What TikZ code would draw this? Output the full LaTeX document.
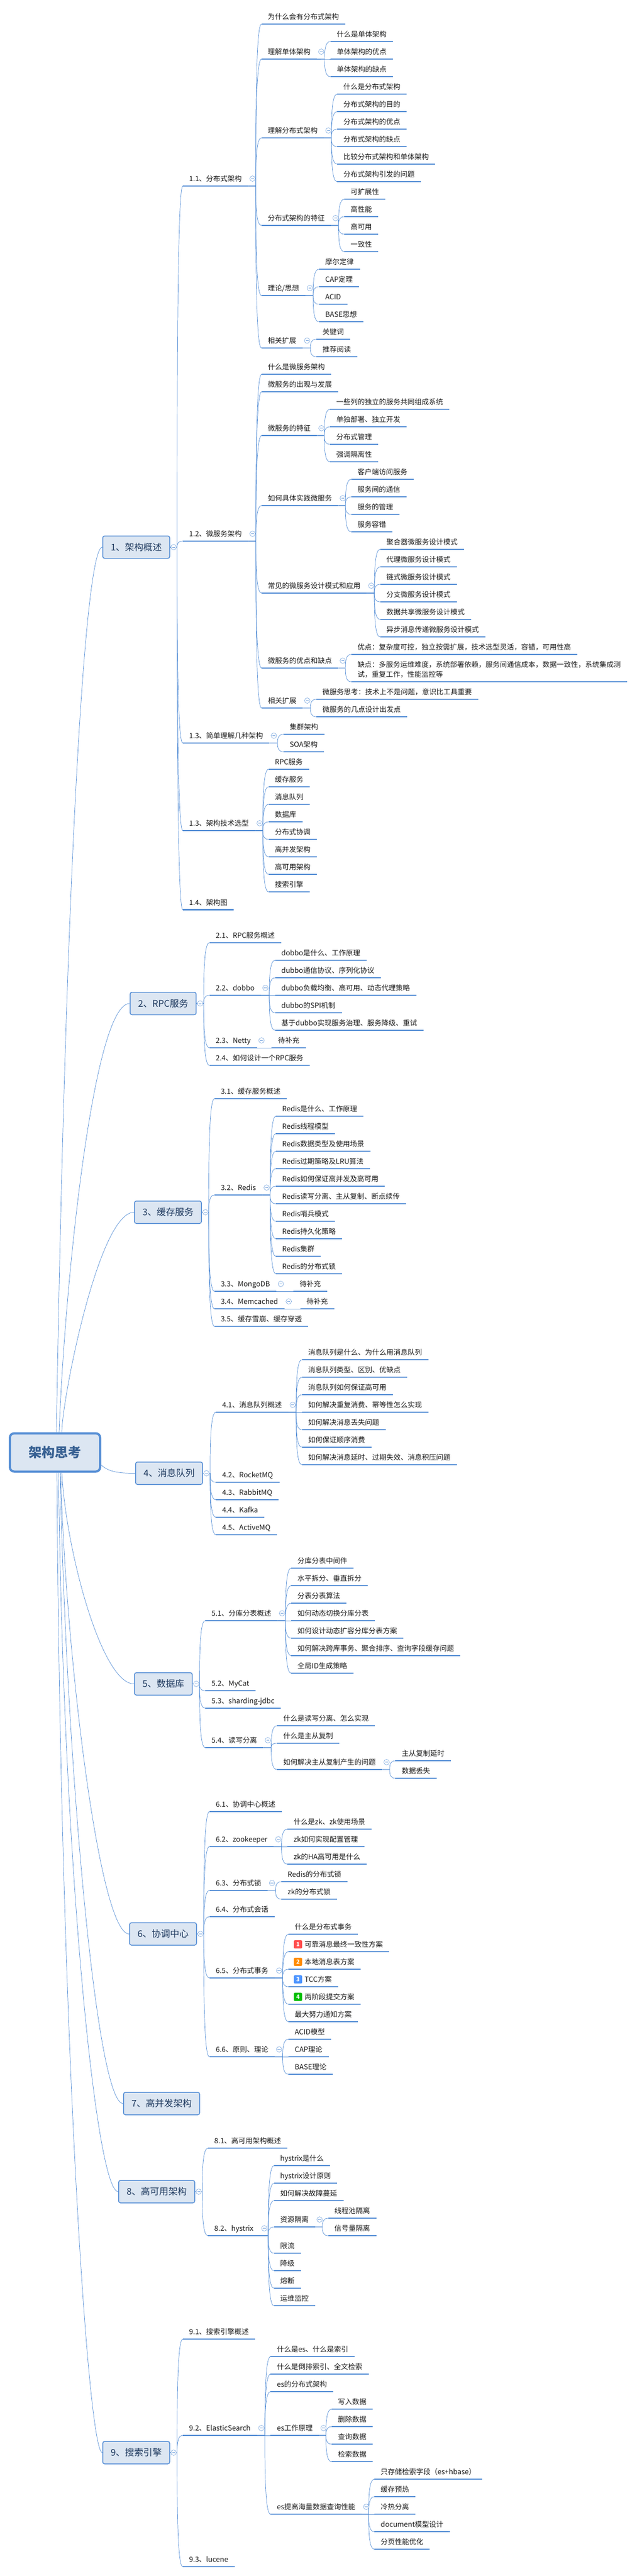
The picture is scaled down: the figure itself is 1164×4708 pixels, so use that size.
\documentclass[tikz,border=0pt]{standalone}
\usepackage{fontspec}
\setmainfont{Noto Sans CJK SC}
\usetikzlibrary{calc}
\definecolor{tblue}{HTML}{558ED5}
\definecolor{boxfill}{HTML}{DCE6F2}
\definecolor{boxtext}{HTML}{1F3A5F}
\definecolor{roottext}{HTML}{376092}
\tikzset{
	uline/.style={draw=tblue,line width=2.6pt},
	topic/.style={anchor=south west,inner xsep=11.5pt,inner ysep=8pt,text height=10pt,text depth=0pt,text=black!90,font=\fontsize{13}{18}\selectfont,append after command={(\tikzlastnode.south west) edge[uline] (\tikzlastnode.south east)}},
	mainbox/.style={anchor=west,draw=tblue,fill=boxfill,line width=1.5pt,rounded corners=3.5pt,minimum height=41pt,inner xsep=14.5pt,text=boxtext,font=\fontsize{16.8}{20}\selectfont},
	rootbox/.style={draw=tblue,fill=boxfill,line width=4pt,rounded corners=8pt,minimum width=165pt,minimum height=70pt,text=roottext,font=\fontsize{24}{28}\selectfont\bfseries},
	link/.style={draw=tblue,line width=.7pt},
	foldmark/.style={circle,draw=tblue!80,fill=white,line width=.6pt,minimum size=10pt,inner sep=0pt,path picture={\draw[tblue!80,line width=.6pt] ([xshift=-2.6pt]path picture bounding box.center) -- ([xshift=2.6pt]path picture bounding box.center);}},
	badge/.style={rounded corners=1.5pt,minimum size=15pt,inner sep=0pt,text=white,font=\fontsize{10.5}{11}\selectfont\bfseries}
}
\def\linkto(#1)(#2){\draw[link] let \p1=(#1),\p2=(#2.south west),\n1={\x2-10.5pt} in (\p1) -- (\n1,\y1) .. controls (\n1,{.4*\y1+.6*\y2}) and ({\n1+2pt},\y2) .. (\p2);}
\def\topic(#1)(#2)(#3)#4{\node[topic] (#3) at (#2) {#4};\linkto(#1.south east)(#3)}
\def\subtopic(#1)(#2)(#3)#4{\node[topic] (#3) at (#2) {#4};\linkto(#1.east)(#3)}
\def\foldtopic(#1){\node[foldmark] (#1f) at ([shift={(8,-13.5)}]#1.south east) {};}
\def\foldbox(#1){\node[foldmark] (#1f) at ([xshift=6.5pt]#1.east) {};}
\def\rootlink(#1)(#2)(#3)(#4){\draw[link] (#1) .. controls (#2) and (#3) .. (#4.west);}
\begin{document}
\begin{tikzpicture}[x=1pt,y=-1pt]
		%%%%% START %%%%%
		\useasboundingbox (0,0) rectangle (1164,4708);
		
		\node[rootbox] (root) at (100.5,2654.5) {架构思考};
		
		\node[mainbox] (c1) at (187,1000) {1、架构概述};
		\node[mainbox] (c2) at (237,1834) {2、RPC服务};
		\node[mainbox] (c3) at (245,2215.5) {3、缓存服务};
		\node[mainbox] (c4) at (247,2692.5) {4、消息队列};
		\node[mainbox] (c5) at (245,3077.5) {5、数据库};
		\node[mainbox] (c6) at (236,3534.5) {6、协调中心};
		\node[mainbox] (c7) at (225,3844.5) {7、高并发架构};
		\node[mainbox] (c8) at (216,4005.5) {8、高可用架构};
		\node[mainbox] (c9) at (187,4482.5) {9、搜索引擎};
		
		\rootlink([xshift=2.5pt]root.north)(120,1600)(155,1000)(c1);
		\rootlink([xshift=7.5pt]root.north)(118,2350)(170,1834)(c2);
		\rootlink([xshift=12.5pt]root.north)(113,2560)(180,2215.5)(c3);
		\rootlink([yshift=-23pt]root.east)(200,2692)(225,2692.5)(c4);
		\rootlink([xshift=12.5pt]root.south)(120,2830)(185,3077.5)(c5);
		\rootlink([xshift=10.5pt]root.south)(118,3000)(180,3534.5)(c6);
		\rootlink([xshift=9.5pt]root.south)(120,3200)(175,3844.5)(c7);
		\rootlink([xshift=6.5pt]root.south)(115,3400)(175,4005.5)(c8);
		\rootlink([xshift=3.5pt]root.south)(110,3700)(160,4482.5)(c9);
		
		\subtopic(c1)(334,340)(t11){1.1、分布式架构}
		\topic(t11)(477.7,44)(t11a){为什么会有分布式架构}
		\topic(t11)(477.7,108)(t11b){理解单体架构}
		\topic(t11b)(603.6,76)(t11b1){什么是单体架构}
		\topic(t11b)(603.6,108)(t11b2){单体架构的优点}
		\topic(t11b)(603.6,140)(t11b3){单体架构的缺点}
		\foldtopic(t11b)
		\topic(t11)(477.7,252)(t11c){理解分布式架构}
		\topic(t11c)(616,172)(t11c1){什么是分布式架构}
		\topic(t11c)(616,204)(t11c2){分布式架构的目的}
		\topic(t11c)(616,236)(t11c3){分布式架构的优点}
		\topic(t11c)(616,268)(t11c4){分布式架构的缺点}
		\topic(t11c)(616,300)(t11c5){比较分布式架构和单体架构}
		\topic(t11c)(616,332)(t11c6){分布式架构引发的问题}
		\foldtopic(t11c)
		\topic(t11)(477.7,412)(t11d){分布式架构的特征}
		\topic(t11d)(629,364)(t11d1){可扩展性}
		\topic(t11d)(629,396)(t11d2){高性能}
		\topic(t11d)(629,428)(t11d3){高可用}
		\topic(t11d)(629,460)(t11d4){一致性}
		\foldtopic(t11d)
		\topic(t11)(477.7,540)(t11e){理论/思想}
		\topic(t11e)(582.6,492)(t11e1){摩尔定律}
		\topic(t11e)(582.6,524)(t11e2){CAP定理}
		\topic(t11e)(582.6,556)(t11e3){ACID}
		\topic(t11e)(582.6,588)(t11e4){BASE思想}
		\foldtopic(t11e)
		\topic(t11)(477.7,636)(t11f){相关扩展}
		\topic(t11f)(577.7,620)(t11f1){关键词}
		\topic(t11f)(577.7,652)(t11f2){推荐阅读}
		\foldtopic(t11f)
		\foldtopic(t11)
		
		\subtopic(c1)(334,989)(t12){1.2、微服务架构}
		\topic(t12)(478,684)(t12a){什么是微服务架构}
		\topic(t12)(478,716)(t12b){微服务的出现与发展}
		\topic(t12)(478,796)(t12c){微服务的特征}
		\topic(t12c)(603,748)(t12c1){一些列的独立的服务共同组成系统}
		\topic(t12c)(603,780)(t12c2){单独部署、独立开发}
		\topic(t12c)(603,812)(t12c3){分布式管理}
		\topic(t12c)(603,844)(t12c4){强调隔离性}
		\foldtopic(t12c)
		\topic(t12)(478,924)(t12d){如何具体实践微服务}
		\topic(t12d)(641.6,876)(t12d1){客户端访问服务}
		\topic(t12d)(641.6,908)(t12d2){服务间的通信}
		\topic(t12d)(641.6,940)(t12d3){服务的管理}
		\topic(t12d)(641.6,972)(t12d4){服务容错}
		\foldtopic(t12d)
		\topic(t12)(478,1084)(t12e){常见的微服务设计模式和应用}
		\topic(t12e)(694.5,1004)(t12e1){聚合器微服务设计模式}
		\topic(t12e)(694.5,1036)(t12e2){代理微服务设计模式}
		\topic(t12e)(694.5,1068)(t12e3){链式微服务设计模式}
		\topic(t12e)(694.5,1100)(t12e4){分支微服务设计模式}
		\topic(t12e)(694.5,1132)(t12e5){数据共享微服务设计模式}
		\topic(t12e)(694.5,1164)(t12e6){异步消息传递微服务设计模式}
		\foldtopic(t12e)
		\topic(t12)(478,1221)(t12f){微服务的优点和缺点}
		\topic(t12f)(641.6,1196)(t12f1){优点：复杂度可控，独立按需扩展，技术选型灵活，容错，可用性高}
		\topic(t12f)(641.6,1246)(t12f2){\vbox{\hbox{缺点：多服务运维难度，系统部署依赖，服务间通信成本，数据一致性，系统集成测}\hbox{试，重复工作，性能监控等}}}
		\foldtopic(t12f)
		\topic(t12)(478,1294)(t12g){相关扩展}
		\topic(t12g)(577.7,1278)(t12g1){微服务思考：技术上不是问题，意识比工具重要}
		\topic(t12g)(577.7,1310)(t12g2){微服务的几点设计出发点}
		\foldtopic(t12g)
		\foldtopic(t12)
		
		\subtopic(c1)(334,1358)(t13){1.3、简单理解几种架构}
		\topic(t13)(517.6,1342)(t13a){集群架构}
		\topic(t13)(517.6,1374)(t13b){SOA架构}
		\foldtopic(t13)
		\subtopic(c1)(334,1518)(t14){1.3、架构技术选型}
		\topic(t14)(490.6,1406)(t14a){RPC服务}
		\topic(t14)(490.6,1438)(t14b){缓存服务}
		\topic(t14)(490.6,1470)(t14c){消息队列}
		\topic(t14)(490.6,1502)(t14d){数据库}
		\topic(t14)(490.6,1534)(t14e){分布式协调}
		\topic(t14)(490.6,1566)(t14f){高并发架构}
		\topic(t14)(490.6,1598)(t14g){高可用架构}
		\topic(t14)(490.6,1630)(t14h){搜索引擎}
		\foldtopic(t14)
		\subtopic(c1)(334,1662.7)(t15){1.4、架构图}
		\foldbox(c1)
		
		\subtopic(c2)(382.6,1723)(t21){2.1、RPC服务概述}
		\subtopic(c2)(382.6,1819)(t22){2.2、dobbo}
		\topic(t22)(502.5,1755)(t22a){dobbo是什么、工作原理}
		\topic(t22)(502.5,1787)(t22b){dubbo通信协议、序列化协议}
		\topic(t22)(502.5,1819)(t22c){dubbo负载均衡、高可用、动态代理策略}
		\topic(t22)(502.5,1851)(t22d){dubbo的SPI机制}
		\topic(t22)(502.5,1883)(t22e){基于dubbo实现服务治理、服务降级、重试}
		\foldtopic(t22)
		\subtopic(c2)(382.6,1915)(t23){2.3、Netty}
		\topic(t23)(496.4,1915)(t23a){待补充}
		\foldtopic(t23)
		\subtopic(c2)(382.6,1947)(t24){2.4、如何设计一个RPC服务}
		\foldbox(c2)
		
		\subtopic(c3)(391.8,2008)(t31){3.1、缓存服务概述}
		\subtopic(c3)(391.8,2184)(t32){3.2、Redis}
		\topic(t32)(504,2040)(t32a){Redis是什么、工作原理}
		\topic(t32)(504,2072)(t32b){Redis线程模型}
		\topic(t32)(504,2104)(t32c){Redis数据类型及使用场景}
		\topic(t32)(504,2136)(t32d){Redis过期策略及LRU算法}
		\topic(t32)(504,2168)(t32e){Redis如何保证高并发及高可用}
		\topic(t32)(504,2200)(t32f){Redis读写分离、主从复制、断点续传}
		\topic(t32)(504,2232)(t32g){Redis哨兵模式}
		\topic(t32)(504,2264)(t32h){Redis持久化策略}
		\topic(t32)(504,2296)(t32i){Redis集群}
		\topic(t32)(504,2328)(t32j){Redis的分布式锁}
		\foldtopic(t32)
		\subtopic(c3)(391.8,2360)(t33){3.3、MongoDB}
		\topic(t33)(535.7,2360)(t33a){待补充}
		\foldtopic(t33)
		\subtopic(c3)(391.8,2392)(t34){3.4、Memcached}
		\topic(t34)(548.5,2392)(t34a){待补充}
		\foldtopic(t34)
		\subtopic(c3)(391.8,2424)(t35){3.5、缓存雪崩、缓存穿透}
		\foldbox(c3)
		
		\subtopic(c4)(394.4,2581)(t41){4.1、消息队列概述}
		\topic(t41)(551.5,2485)(t41a){消息队列是什么、为什么用消息队列}
		\topic(t41)(551.5,2517)(t41b){消息队列类型、区别、优缺点}
		\topic(t41)(551.5,2549)(t41c){消息队列如何保证高可用}
		\topic(t41)(551.5,2581)(t41d){如何解决重复消费、幂等性怎么实现}
		\topic(t41)(551.5,2613)(t41e){如何解决消息丢失问题}
		\topic(t41)(551.5,2645)(t41f){如何保证顺序消费}
		\topic(t41)(551.5,2677)(t41g){如何解决消息延时、过期失效、消息积压问题}
		\foldtopic(t41)
		\subtopic(c4)(394.4,2709)(t42){4.2、RocketMQ}
		\subtopic(c4)(394.4,2741)(t43){4.3、RabbitMQ}
		\subtopic(c4)(394.4,2773)(t44){4.4、Kafka}
		\subtopic(c4)(394.4,2805)(t45){4.5、ActiveMQ}
		\foldbox(c4)
		
		\subtopic(c5)(375,2962)(t51){5.1、分库分表概述}
		\topic(t51)(532,2866)(t51a){分库分表中间件}
		\topic(t51)(532,2898)(t51b){水平拆分、垂直拆分}
		\topic(t51)(532,2930)(t51c){分表分表算法}
		\topic(t51)(532,2962)(t51d){如何动态切换分库分表}
		\topic(t51)(532,2994)(t51e){如何设计动态扩容分库分表方案}
		\topic(t51)(532,3026)(t51f){如何解决跨库事务、聚合排序、查询字段缓存问题}
		\topic(t51)(532,3058)(t51g){全局ID生成策略}
		\foldtopic(t51)
		\subtopic(c5)(375,3090)(t52){5.2、MyCat}
		\subtopic(c5)(375,3122)(t53){5.3、sharding-jdbc}
		\subtopic(c5)(375,3194)(t54){5.4、读写分离}
		\topic(t54)(506,3154)(t54a){什么是读写分离、怎么实现}
		\topic(t54)(506,3186)(t54b){什么是主从复制}
		\topic(t54)(506,3234)(t54c){如何解决主从复制产生的问题}
		\topic(t54c)(722.4,3218)(t54c1){主从复制延时}
		\topic(t54c)(722.4,3250)(t54c2){数据丢失}
		\foldtopic(t54c)
		\foldtopic(t54)
		\foldbox(c5)
		
		\subtopic(c6)(382.6,3311)(t61){6.1、协调中心概述}
		\subtopic(c6)(382.6,3375)(t62){6.2、zookeeper}
		\topic(t62)(525,3343)(t62a){什么是zk、zk使用场景}
		\topic(t62)(525,3375)(t62b){zk如何实现配置管理}
		\topic(t62)(525,3407)(t62c){zk的HA高可用是什么}
		\foldtopic(t62)
		\subtopic(c6)(382.6,3455)(t63){6.3、分布式锁}
		\topic(t63)(514,3439)(t63a){Redis的分布式锁}
		\topic(t63)(514,3471)(t63b){zk的分布式锁}
		\foldtopic(t63)
		\subtopic(c6)(382.6,3503)(t64){6.4、分布式会话}
		\subtopic(c6)(382.6,3615)(t65){6.5、分布式事务}
		\topic(t65)(527,3535)(t65a){什么是分布式事务}
		\topic(t65)(527,3567)(t65b){\hspace{18pt}可靠消息最终一致性方案}
		\topic(t65)(527,3599)(t65c){\hspace{18pt}本地消息表方案}
		\topic(t65)(527,3631)(t65d){\hspace{18pt}TCC方案}
		\topic(t65)(527,3663)(t65e){\hspace{18pt}两阶段提交方案}
		\topic(t65)(527,3695)(t65f){最大努力通知方案}
		\node[badge,fill=red!70!white] (b1) at ([shift={(17.5,-13.5)}]t65b.south west) {1};
		\node[badge,fill=orange!90!yellow] (b2) at ([shift={(17.5,-13.5)}]t65c.south west) {2};
		\node[badge,fill=blue!60!cyan!70!white] (b3) at ([shift={(17.5,-13.5)}]t65d.south west) {3};
		\node[badge,fill=green!75!black] (b4) at ([shift={(17.5,-13.5)}]t65e.south west) {4};
		\foldtopic(t65)
		\subtopic(c6)(382.6,3759)(t66){6.6、原则、理论}
		\topic(t66)(527,3727)(t66a){ACID模型}
		\topic(t66)(527,3759)(t66b){CAP理论}
		\topic(t66)(527,3791)(t66c){BASE理论}
		\foldtopic(t66)
		\foldbox(c6)
		
		\subtopic(c8)(380,3926)(t81){8.1、高可用架构概述}
		\subtopic(c8)(380,4086)(t82){8.2、hystrix}
		\topic(t82)(500.5,3958)(t82a){hystrix是什么}
		\topic(t82)(500.5,3990)(t82b){hystrix设计原则}
		\topic(t82)(500.5,4022)(t82c){如何解决故障蔓延}
		\topic(t82)(500.5,4070)(t82d){资源隔离}
		\topic(t82d)(599.5,4054)(t82d1){线程池隔离}
		\topic(t82d)(599.5,4086)(t82d2){信号量隔离}
		\foldtopic(t82d)
		\topic(t82)(500.5,4118)(t82e){限流}
		\topic(t82)(500.5,4150)(t82f){降级}
		\topic(t82)(500.5,4182)(t82g){熔断}
		\topic(t82)(500.5,4214)(t82h){运维监控}
		\foldtopic(t82)
		\foldbox(c8)
		
		\subtopic(c9)(334,4275)(t91){9.1、搜索引擎概述}
		\subtopic(c9)(334,4451)(t92){9.2、ElasticSearch}
		\topic(t92)(494.4,4307)(t92a){什么是es、什么是索引}
		\topic(t92)(494.4,4339)(t92b){什么是倒排索引、全文检索}
		\topic(t92)(494.4,4371)(t92c){es的分布式架构}
		\topic(t92)(494.4,4451)(t92d){es工作原理}
		\topic(t92d)(606,4403)(t92d1){写入数据}
		\topic(t92d)(606,4435)(t92d2){删除数据}
		\topic(t92d)(606,4467)(t92d3){查询数据}
		\topic(t92d)(606,4499)(t92d4){检索数据}
		\foldtopic(t92d)
		\topic(t92)(494.4,4595)(t92e){es提高海量数据查询性能}
		\topic(t92e)(684,4531)(t92e1){只存储检索字段（es+hbase）}
		\topic(t92e)(684,4563)(t92e2){缓存预热}
		\topic(t92e)(684,4595)(t92e3){冷热分离}
		\topic(t92e)(684,4627)(t92e4){document模型设计}
		\topic(t92e)(684,4659)(t92e5){分页性能优化}
		\foldtopic(t92e)
		\foldtopic(t92)
		\subtopic(c9)(334,4691)(t93){9.3、lucene}
		\foldbox(c9)
		%%%%% END %%%%%
	\end{tikzpicture}
\end{document}
